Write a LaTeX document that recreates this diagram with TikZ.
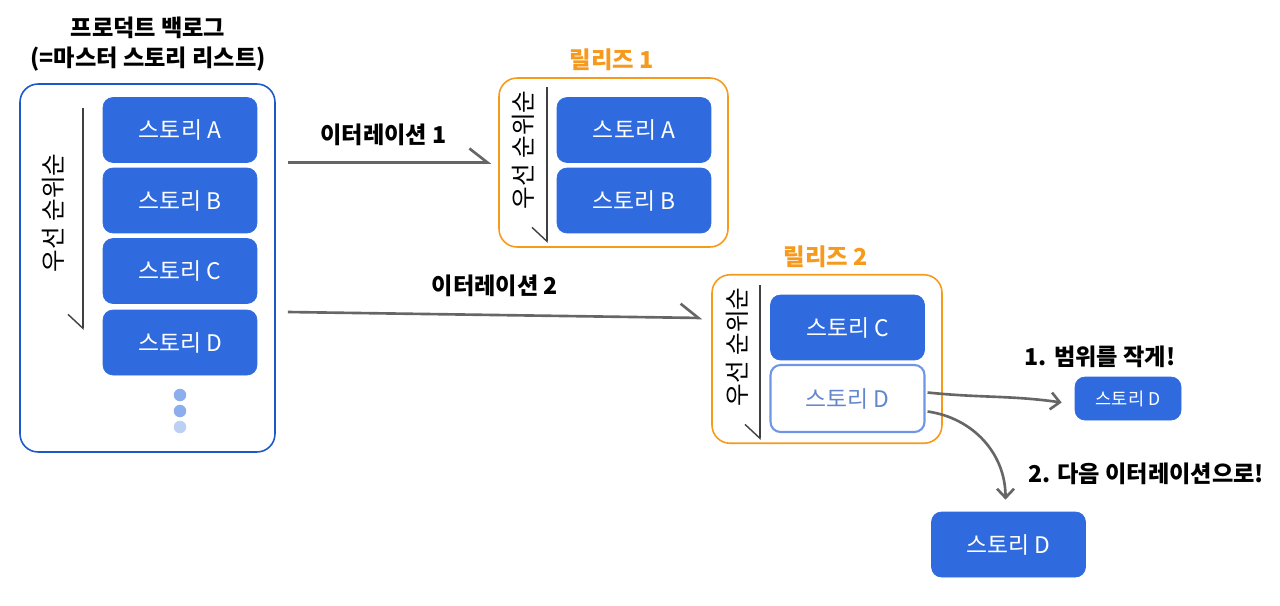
\documentclass[tikz,border=0pt]{standalone}
\usepackage{fontspec}
\setmainfont{Noto Sans CJK KR}
\usetikzlibrary{arrows.meta,calc}

\definecolor{storyblue}{HTML}{2F6BDF}
\definecolor{backblue}{HTML}{1D58C9}
\definecolor{relorange}{HTML}{F59A1C}
\definecolor{ghostblue}{HTML}{6F96E2}
\definecolor{arrowgray}{HTML}{666666}

\tikzset{
  story/.style={draw=storyblue,fill=storyblue,rounded corners=0.2cm,text=white,inner sep=0pt,
    minimum width=3.08cm,minimum height=1.3cm,font=\fontsize{13}{15}\selectfont},
  ghost/.style={story,draw=ghostblue,fill=white,text=ghostblue!90!black,line width=1.2pt},
  backbox/.style={draw=backblue,line width=0.9pt,rounded corners=0.36cm,inner sep=0pt},
  relbox/.style={draw=relorange,line width=0.9pt,rounded corners=0.36cm,inner sep=0pt,
    minimum width=4.6cm,minimum height=3.37cm},
  reltitle/.style={text=relorange,font=\bfseries\fontsize{13.3}{15}\selectfont},
  lbl/.style={font=\bfseries\fontsize{13.2}{17}\selectfont},
  prio/.style={draw=black!75,line width=0.8pt,-{Straight Barb[harpoon,swap,length=0.28cm,width=0.6cm]}},
  priotext/.style={rotate=90,font=\fontsize{14}{16}\selectfont},
  iter/.style={draw=arrowgray,line width=1.5pt,-{Straight Barb[harpoon,length=0.36cm,width=0.56cm]}},
  curvy/.style={draw=arrowgray,line width=1.5pt,-{Straight Barb[length=0.18cm,width=0.34cm]}},
  dot/.style={circle,inner sep=0pt,minimum size=0.25cm}
}

\begin{document}
\begin{tikzpicture}[x=0.02cm,y=-0.02cm]
\useasboundingbox (0,0) rectangle (1280,605);

% product backlog
\node[lbl,align=center] (bt) at (148,44) {프로덕트 백로그\\(=마스터 스토리 리스트)};
\node[backbox,minimum width=5.1cm,minimum height=7.36cm] (bl) at (147.5,268) {};
\node[story] (sa) at (180,130) {스토리 A};
\node[story] (sb) at (180,200.5) {스토리 B};
\node[story] (sc) at (180,271) {스토리 C};
\node[story] (sd) at (180,342.5) {스토리 D};
\node[dot,fill=storyblue!55] (d1) at (180,395) {};
\node[dot,fill=storyblue!55] (d2) at (180,411) {};
\node[dot,fill=storyblue!32] (d3) at (180,427) {};
\node[priotext] (pt0) at (53,213) {우선 순위순};
\draw[prio] (83,108) -- (83,330);

% release 1
\node[reltitle] (rt1) at (612,60) {릴리즈 1};
\node[relbox,minimum width=4.58cm,minimum height=3.38cm] (r1) at (613.5,162.5) {};
\node[story] (ra) at (634,130) {스토리 A};
\node[story] (rb) at (634,200.5) {스토리 B};
\node[priotext] (pt1) at (523,150) {우선 순위순};
\draw[prio] (547,87) -- (547,243);

% release 2
\node[reltitle] (rt2) at (826,257) {릴리즈 2};
\node[relbox] (r2) at (827,359) {};
\node[story] (rc) at (847.5,327.5) {스토리 C};
\node[ghost,minimum height=1.34cm] (rd) at (847.5,398.5) {스토리 D};
\node[priotext] (pt2) at (737,347) {우선 순위순};
\draw[prio] (760,285) -- (760,440);

% iterations
\draw[iter,shorten <=0.24cm] (bl.east |- r1.west) -- node[lbl,above=0.2cm] (it1) {이터레이션 1} ([xshift=-0.14cm]r1.west);
\draw[iter] ($(bl.east)+(12,44)$) -- node[lbl,above=0.22cm] (it2) {이터레이션 2} ($(r2.west)+(-9,-41)$);

% story D split
\node[story,minimum width=2.12cm,minimum height=0.86cm,font=\fontsize{10}{12}\selectfont] (sd1) at (1128,398.5) {스토리 D};
\node[lbl] (l1) at (1100,357) {1. 범위를 작게!};
\node[story] (sd2) at (1008.5,544.5) {스토리 D};
\node[lbl] (l2) at (1146,474) {2. 다음 이터레이션으로!};
\draw[curvy] ($(rd.east)+(2,-6)$) to[out=-6,in=172] ($(sd1.west)+(-13,4)$);
\draw[curvy] ($(rd.east)+(2,13)$) to[out=-8,in=90] ($(sd2.north)+(-3,-12)$);
\end{tikzpicture}
\end{document}
